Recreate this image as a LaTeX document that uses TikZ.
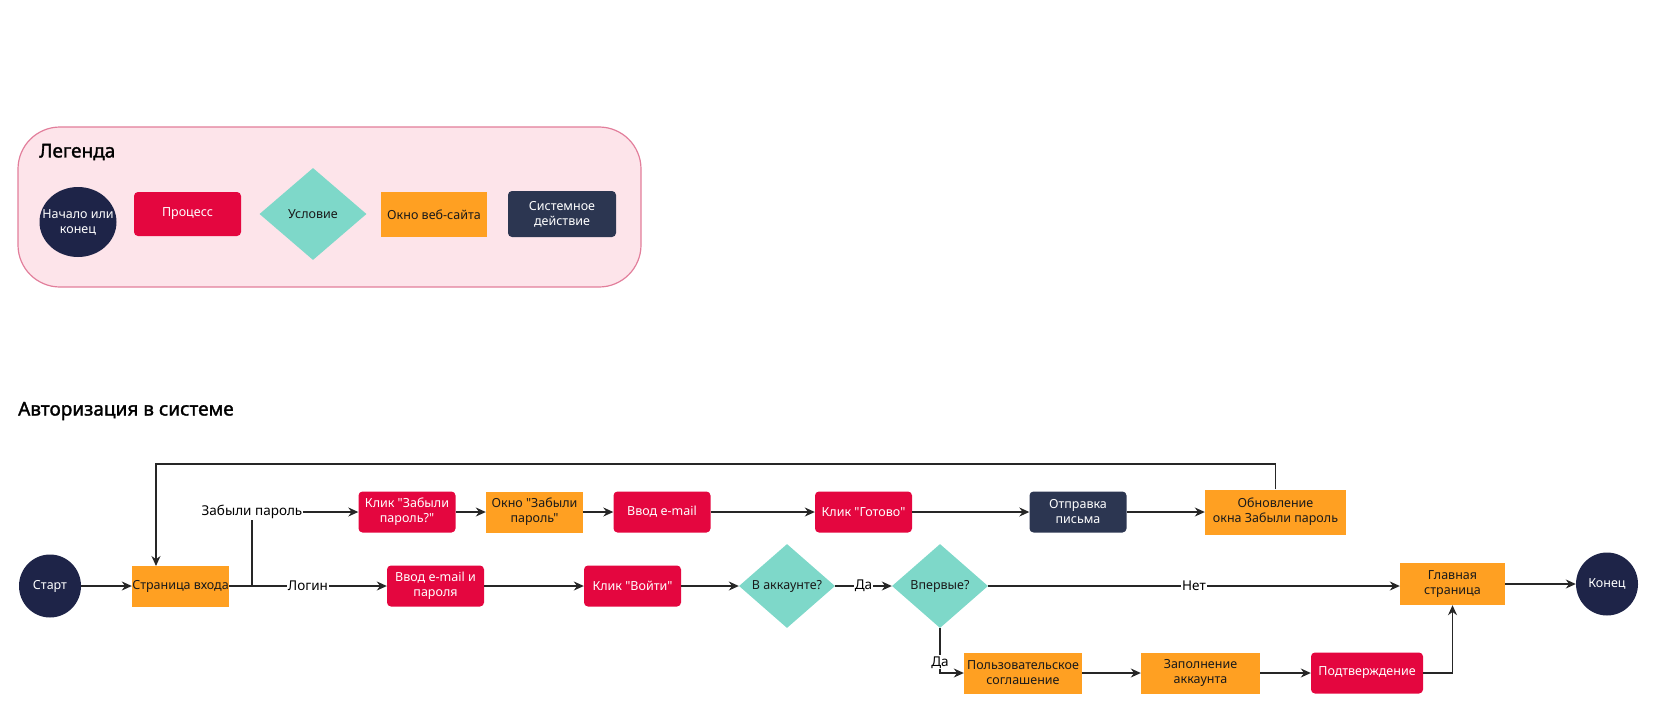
\documentclass[tikz,border=0pt]{standalone}
\usepackage{fontspec}
\setmainfont{Noto Sans}[Ligatures=TeXOff]
\newfontfamily\headfont{Noto Sans}[AutoFakeBold=1.6]
\usetikzlibrary{shapes.geometric,arrows.meta}
\definecolor{navy}{HTML}{1E2448}
\definecolor{navytwo}{HTML}{2C3651}
\definecolor{procred}{HTML}{E4063F}
\definecolor{teal}{HTML}{7ED8C9}
\definecolor{webor}{HTML}{FFA022}
\definecolor{legfill}{HTML}{FDE4EA}
\definecolor{legdraw}{HTML}{E27E9B}
\definecolor{txtdark}{HTML}{1A1A1A}
\tikzset{
  base/.style={inner sep=0pt, align=center, font=\fontsize{12.5}{15}\selectfont},
  term/.style={base, ellipse, fill=navy, text=white, minimum width=62pt, minimum height=63pt},
  proc/.style={base, rectangle, rounded corners=4pt, fill=procred, text=white, minimum width=97pt, minimum height=41pt},
  web/.style={base, rectangle, fill=webor, text=txtdark, minimum width=97pt, minimum height=41pt},
  cond/.style={base, diamond, fill=teal, text=txtdark, minimum width=96pt, minimum height=84pt, aspect=1.14},
  sys/.style={base, rectangle, rounded corners=4pt, fill=navytwo, text=white, minimum width=97pt, minimum height=41pt},
  arr/.style={-{Stealth[length=10pt,width=9pt]}, line width=1.2pt, draw=black!85},
  lbl/.style={fill=white, inner sep=1pt, text=black, font=\fontsize{13.5}{16}\selectfont},
  heading/.style={anchor=west, inner sep=0pt, text=black, font=\fontsize{19}{22}\selectfont\headfont\bfseries},
}
\begin{document}
\begin{tikzpicture}[x=1pt,y=-1pt]
\useasboundingbox (0,0) rectangle (1680,706);
% Legend
\node[draw=legdraw, line width=1.2pt, fill=legfill, rounded corners=42pt, minimum width=623pt, minimum height=160pt, inner sep=0pt] (legend) at (329.5,207) {};
\node[heading] (legtitle) at (39,152) {Легенда};
\node[term, minimum width=77pt, minimum height=70pt] (lterm) at (78,222) {\makebox[0pt]{Начало или}\\\makebox[0pt]{конец}};
\node[proc, minimum width=107pt, minimum height=44pt] (lproc) at (187.5,214) {Процесс};
\node[cond, minimum width=107pt, minimum height=92pt] (lcond) at (313,214) {Условие};
\node[web, minimum width=106pt, minimum height=45pt] (lweb) at (434,214.5) {Окно веб-сайта};
\node[sys, minimum width=108pt, minimum height=46pt] (lsys) at (562,214) {Системное\\действие};
% Title
\node[heading] (title) at (18,411) {Авторизация в системе};
% Flow nodes
\node[term] (start) at (50,586) {Старт};
\node[web] (login) at (180.5,586) {Страница входа};
\node[proc] (kz) at (407,512) {Клик "Забыли\\пароль?"};
\node[web] (okz) at (534.5,512) {Окно "Забыли\\пароль"};
\node[proc] (ve) at (662,512) {Ввод e-mail};
\node[proc] (kg) at (863.5,512) {Клик "Готово"};
\node[sys] (op) at (1078,512) {Отправка\\письма};
\node[web, minimum width=141pt, minimum height=45pt] (ob) at (1275.5,512) {Обновление\\окна Забыли пароль};
\node[proc] (vvp) at (435.5,586) {Ввод e-mail и\\пароля};
\node[proc] (kv) at (632.5,586) {Клик "Войти"};
\node[cond] (ak) at (787,586) {В аккаунте?};
\node[cond] (vp) at (940,586) {Впервые?};
\node[web, minimum width=105pt, minimum height=42pt] (gl) at (1452.5,584) {Главная\\страница};
\node[term] (end) at (1607,584) {Конец};
\node[web, minimum width=118pt] (pol) at (1023,673) {Пользовательское\\соглашение};
\node[web, minimum width=119pt] (zap) at (1200.5,673) {Заполнение\\аккаунта};
\node[proc, minimum width=112pt] (pod) at (1367,673) {Подтверждение};
% Helper coordinates
\coordinate (br) at (252,586);
\coordinate (loopr) at (1275.5,464);
\coordinate (loopin) at (156,566);
% Connectors
\draw[arr] (start) -- (login);
\draw[arr] (login.east) -- node[lbl]{Логин} (vvp.west);
\draw[arr] (login.east) -- (br) |- node[lbl,pos=0.5]{Забыли пароль} (kz.west);
\draw[arr] (kz) -- (okz);
\draw[arr] (okz) -- (ve);
\draw[arr] (ve) -- (kg);
\draw[arr] (kg) -- (op);
\draw[arr] (op) -- (ob);
\draw[arr] (ob.north) -- (loopr) -| (loopin);
\draw[arr] (vvp) -- (kv);
\draw[arr] (kv) -- (ak);
\draw[arr] (ak) -- node[lbl]{Да} (vp);
\draw[arr] (vp.east) -- node[lbl,pos=0.5]{Нет} (vp.east -| gl.west);
\draw[arr] (gl) -- (end);
\draw[arr] (vp.south) |- node[lbl,pos=0.38]{Да} (pol.west);
\draw[arr] (pol) -- (zap);
\draw[arr] (zap) -- (pod);
\draw[arr] (pod.east) -| (gl.south);
\end{tikzpicture}
\end{document}
